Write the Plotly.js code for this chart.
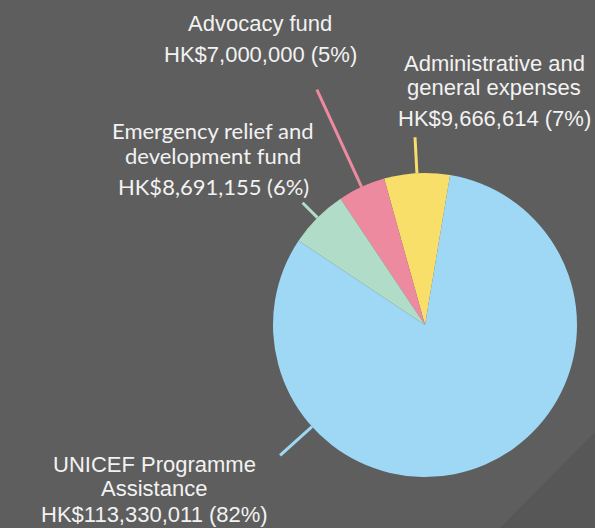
<!DOCTYPE html>
<html>
<head>
<meta charset="utf-8">
<script src="https://cdn.plot.ly/plotly-3.0.1.min.js"></script>
<style>html,body{margin:0;padding:0;background:#5e5e5e;}#chart{width:595px;height:528px;}</style>
</head>
<body>
<div id="chart"></div>
<script>
// ---- data ----
var categories = ["Administrative and general expenses", "Advocacy fund", "Emergency relief and development fund", "UNICEF Programme Assistance"];
var amounts = [9666614, 7000000, 8691155, 113330011];
var percentLabels = ["7%", "5%", "6%", "82%"];
var labelLines = [
  ["Administrative and", "general expenses"],
  ["Advocacy fund"],
  ["Emergency relief and", "development fund"],
  ["UNICEF Programme", "Assistance"]
];
var colors = ["#f8df6a", "#ee8aa0", "#b0dcc8", "#9fd8f5"];

// ---- layout geometry ----
var W = 595, H = 528;
var cx = 425, cy = 325, R = 152;
var startAngle = 9.5; // first slice boundary, deg clockwise from top
function px(x){ return x / W; }
function py(y){ return 1 - y / H; }

var total = amounts.reduce(function(a,b){return a+b;}, 0);
var spans = amounts.map(function(v){ return v / total * 360; });
var mids = [];
var cur = startAngle;
spans.forEach(function(span){
  mids.push(cur - span/2);
  cur -= span;
});
// leader line settings: [angle override or null, inner r, outer r]
var leaders = [
  [null, R, 188],
  [null, R, 259],
  [null, R, 173],
  [-132, R, 195]
];
var fontA = "Liberation Sans, Arial, sans-serif";
var fontB = "Lato, Noto Sans, sans-serif";
// text placements [centerX, [lineY...], font, size]
var textPos = [
  [494, [63, 87, 118], fontA, 22],
  [260, [24, 55], fontA, 22],
  [213, [131, 155, 186], fontB, 22],
  [154, [464, 488, 514], fontA, 22]
];

var shapes = [{
  type: "path", xref: "paper", yref: "paper",
  path: "M 1," + py(432) + " L " + px(500) + ",0 L 1,0 Z",
  fillcolor: "#575757", line: {width: 0}, layer: "below"
}];
var annotations = [];
categories.forEach(function(c, i){
  var ang = (leaders[i][0] === null ? mids[i] : leaders[i][0]) * Math.PI / 180;
  var s = Math.sin(ang), co = -Math.cos(ang);
  shapes.push({
    type: "line", xref: "paper", yref: "paper",
    x0: px(cx + leaders[i][1] * s), y0: py(cy + leaders[i][1] * co),
    x1: px(cx + leaders[i][2] * s), y1: py(cy + leaders[i][2] * co),
    line: {color: colors[i], width: 3}
  });
  var lines = labelLines[i].concat(["HK$" + amounts[i].toLocaleString("en-US") + " (" + percentLabels[i] + ")"]);
  lines.forEach(function(t, k){
    annotations.push({
      xref: "paper", yref: "paper",
      x: px(textPos[i][0]), y: py(textPos[i][1][k]),
      xanchor: "center", yanchor: "middle",
      borderpad: 0,
      text: t, showarrow: false,
      font: {family: textPos[i][2], size: textPos[i][3], color: "#f2f2f2"}
    });
  });
});

var trace = {
  type: "pie",
  labels: categories,
  values: amounts,
  sort: false,
  direction: "counterclockwise",
  rotation: startAngle - spans[0],
  textinfo: "none",
  hoverinfo: "none",
  marker: {colors: colors, line: {width: 0}},
  domain: {x: [px(cx - R), px(cx + R)], y: [py(cy + R), py(cy - R)]},
  showlegend: false
};

Plotly.newPlot("chart", [trace], {
  width: W, height: H,
  margin: {l: 0, r: 0, t: 0, b: 0},
  paper_bgcolor: "#5e5e5e",
  plot_bgcolor: "#5e5e5e",
  shapes: shapes,
  annotations: annotations,
  showlegend: false
}, {displayModeBar: false, staticPlot: true});
</script>
</body>
</html>
